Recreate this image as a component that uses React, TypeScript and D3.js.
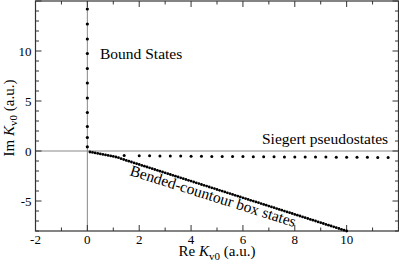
import React from "react";
import * as d3 from "d3";

const boundX = [0, 0, 0, 0, 0, 0, 0, 0, 0, 0, 0];
const boundY = [14.2, 12.7, 11.2, 9.75, 8.25, 6.8, 5.3, 3.85, 2.45, 1.35, 0.42];

const siegertX = [1.42, 2.0, 2.4, 2.8, 3.2, 3.6, 4.0, 4.4, 4.8, 5.2, 5.6, 6.0, 6.4, 6.8, 7.2, 7.6, 8.0, 8.4, 8.8, 9.2, 9.6, 10.0, 10.4, 10.8, 11.2, 11.6];
const siegertY = [-0.45, -0.47, -0.48, -0.49, -0.5, -0.51, -0.52, -0.53, -0.54, -0.55, -0.55, -0.56, -0.57, -0.58, -0.58, -0.59, -0.6, -0.6, -0.61, -0.61, -0.62, -0.62, -0.63, -0.63, -0.64, -0.64];

const boxX = [
  0.1, 0.2, 0.3, 0.4, 0.5, 0.6, 0.7, 0.8, 0.9, 1.0,
  1.1, 1.2, 1.3, 1.4, 1.5, 1.6, 1.7, 1.8, 1.9, 2.0,
  2.1, 2.2, 2.3, 2.4, 2.5, 2.6, 2.7, 2.8, 2.9, 3.0,
  3.1, 3.2, 3.3, 3.4, 3.5, 3.6, 3.7, 3.8, 3.9, 4.0,
  4.1, 4.2, 4.3, 4.4, 4.5, 4.6, 4.7, 4.8, 4.9, 5.0,
  5.1, 5.2, 5.3, 5.4, 5.5, 5.6, 5.7, 5.8, 5.9, 6.0,
  6.1, 6.2, 6.3, 6.4, 6.5, 6.6, 6.7, 6.8, 6.9, 7.0,
  7.1, 7.2, 7.3, 7.4, 7.5, 7.6, 7.7, 7.8, 7.9, 8.0,
  8.1, 8.2, 8.3, 8.4, 8.5, 8.6, 8.7, 8.8, 8.9, 9.0,
  9.1, 9.2, 9.3, 9.4, 9.5, 9.6, 9.7, 9.8, 9.9, 10.0,
];
const boxY = [
  -0.1, -0.14, -0.19, -0.24, -0.29, -0.34, -0.39, -0.44, -0.49, -0.54,
  -0.6, -0.67, -0.77, -0.85, -0.94, -1.02, -1.1, -1.19, -1.27, -1.35,
  -1.44, -1.52, -1.6, -1.68, -1.77, -1.85, -1.93, -2.02, -2.1, -2.18,
  -2.27, -2.35, -2.43, -2.52, -2.6, -2.68, -2.77, -2.85, -2.93, -3.01,
  -3.1, -3.18, -3.26, -3.35, -3.43, -3.51, -3.6, -3.68, -3.76, -3.85,
  -3.93, -4.01, -4.09, -4.18, -4.26, -4.34, -4.43, -4.51, -4.59, -4.68,
  -4.76, -4.84, -4.93, -5.01, -5.09, -5.17, -5.26, -5.34, -5.42, -5.51,
  -5.59, -5.67, -5.76, -5.84, -5.92, -6.01, -6.09, -6.17, -6.25, -6.34,
  -6.42, -6.5, -6.59, -6.67, -6.75, -6.84, -6.92, -7.0, -7.09, -7.17,
  -7.25, -7.34, -7.42, -7.5, -7.58, -7.67, -7.75, -7.83, -7.92, -8.0,
];

const xTickLabels = [-2, 0, 2, 4, 6, 8, 10];
const yTickLabels = [-5, 0, 5, 10];
const xMinor = d3.range(-2, 12.01, 1);
const yMinor = d3.range(-8, 15.01, 1);

const W = 399;
const H = 264;
const L = 35.5, R = 398.5, T = 1, B = 231;
const FONT = '"Liberation Serif", "Times New Roman", Times, serif';

export default function App() {
  const x = d3.scaleLinear().domain([-2, 12]).range([L, R]);
  const y = d3.scaleLinear().domain([-8, 15]).range([B, T]);
  const frame = "#333";
  const zero = "#888";
  const ts = { fontFamily: FONT };

  return (
    <svg width={W} height={H} style={{ position: "absolute", left: 0, top: 0, background: "#fff", fontFamily: FONT }}>
      <rect x={0} y={0} width={W} height={H} fill="#fff" />
      <line x1={x(0)} x2={x(0)} y1={T} y2={B} stroke={zero} strokeWidth={1} />
      <line x1={L} x2={R} y1={y(0)} y2={y(0)} stroke={zero} strokeWidth={1} />
      {xMinor.map((v) => {
        const major = xTickLabels.includes(v);
        const len = major ? 6 : 3.5;
        return (
          <g key={"xt" + v}>
            <line x1={x(v)} x2={x(v)} y1={B} y2={B - len} stroke={frame} />
            <line x1={x(v)} x2={x(v)} y1={T} y2={T + len} stroke={frame} />
          </g>
        );
      })}
      {yMinor.map((v) => {
        const major = v % 5 === 0;
        const len = major ? 6 : 3.5;
        return (
          <g key={"yt" + v}>
            <line x1={L} x2={L + len} y1={y(v)} y2={y(v)} stroke={frame} />
            <line x1={R} x2={R - len} y1={y(v)} y2={y(v)} stroke={frame} />
          </g>
        );
      })}
      <rect x={L} y={T} width={R - L} height={B - T} fill="none" stroke={frame} strokeWidth={1.2} />
      {xTickLabels.map((v) => (
        <text key={"xl" + v} x={x(v)} y={243.5} textAnchor="middle" fontSize={13} fill="#000" style={ts}>
          {v}
        </text>
      ))}
      {yTickLabels.map((v) => (
        <text key={"yl" + v} x={31.5} y={y(v) + 4.5} textAnchor="end" fontSize={13} fill="#000" style={ts}>
          {v}
        </text>
      ))}
      <text x={(L + R) / 2} y={256} textAnchor="middle" fontSize={15} fill="#000" style={ts}>
        Re <tspan fontStyle="italic">K</tspan>
        <tspan fontSize={11} dy={3.5}>v0</tspan>
        <tspan dy={-3.5}> (a.u.)</tspan>
      </text>
      <text transform={`translate(13.5, ${118}) rotate(-90)`} textAnchor="middle" fontSize={15} fill="#000" style={ts}>
        Im <tspan fontStyle="italic">K</tspan>
        <tspan fontSize={11} dy={3.5}>v0</tspan>
        <tspan dy={-3.5}> (a.u.)</tspan>
      </text>
      {boundX.map((v, i) => (
        <circle key={"b" + i} cx={x(v)} cy={y(boundY[i])} r={1.6} fill="#000" />
      ))}
      {siegertX.map((v, i) => (
        <circle key={"s" + i} cx={x(v)} cy={y(siegertY[i])} r={1.5} fill="#000" />
      ))}
      {boxX.map((v, i) => (
        <circle key={"x" + i} cx={x(v)} cy={y(boxY[i])} r={1.4} fill="#000" />
      ))}
      <text x={100} y={59} fontSize={15.5} fill="#000" style={ts}>Bound States</text>
      <text x={262} y={143.5} fontSize={15.5} fill="#000" style={ts}>Siegert pseudostates</text>
      <text transform="translate(129,175) rotate(17.5)" fontSize={15.5} fill="#000" style={ts}>
        Bended-countour box states
      </text>
    </svg>
  );
}
